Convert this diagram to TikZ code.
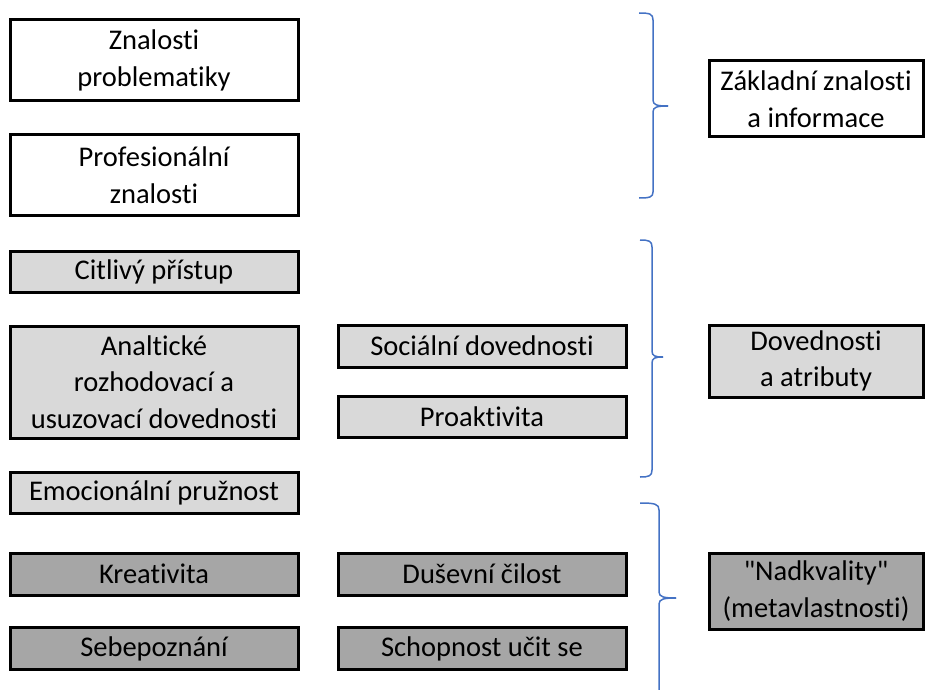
\documentclass[tikz,border=0pt]{standalone}
\usepackage{fontspec}
\setmainfont{Carlito}[Ligatures={NoCommon,TeXOff}]
\definecolor{svetla}{HTML}{D9D9D9}
\definecolor{tmava}{HTML}{A6A6A6}
\definecolor{modra}{HTML}{4472C4}
\tikzset{
  ramec/.style={draw=black, line width=3pt, inner sep=0pt, align=center,
    font=\fontsize{28.5}{36.5}\selectfont},
  bila/.style={ramec, fill=white},
  sediva/.style={ramec, fill=svetla},
  tmavosediva/.style={ramec, fill=tmava},
  svorka/.style={draw=modra, line width=1.5pt},
}
\begin{document}
\begin{tikzpicture}[x=1pt, y=-1pt]
        \useasboundingbox (0,0) rectangle (926,690);
        \clip (0,0) rectangle (926,690);
        \pgfmathsetmacro{\levy}{154}
        \pgfmathsetmacro{\stred}{482}
        \pgfmathsetmacro{\pravy}{816}

        % prvni sloupec
        \node[bila, minimum width=288pt, minimum height=81pt] (znal) at (\levy, 60.5) {Znalosti\\problematiky};
        \node[bila, minimum width=288pt, minimum height=80pt] (prof) at (\levy, 175) {Profesionální\\znalosti};
        \node[sediva, minimum width=288pt, minimum height=41pt] (citl) at (\levy, 271.5) {Citlivý přístup};
        \node[sediva, minimum width=288pt, minimum height=112pt] (anal) at (\levy, 382) {Analtické\\rozhodovací a\\usuzovací dovednosti};
        \node[sediva, minimum width=288pt, minimum height=41pt] (emoc) at (\levy, 492.5) {Emocionální pružnost};
        \node[tmavosediva, minimum width=288pt, minimum height=42pt] (krea) at (\levy, 574) {Kreativita};
        \node[tmavosediva, minimum width=288pt, minimum height=42pt] (sebe) at (\levy, 648.5) {Sebepoznání};

        % druhy sloupec
        \node[sediva, minimum width=288pt, minimum height=42pt] (soci) at (\stred, 346) {Sociální dovednosti};
        \node[sediva, minimum width=288pt, minimum height=41pt] (proa) at (\stred, 417) {Proaktivita};
        \node[tmavosediva, minimum width=288pt, minimum height=42pt] (duse) at (\stred, 574) {Duševní čilost};
        \node[tmavosediva, minimum width=288pt, minimum height=42pt] (scho) at (\stred, 648.5) {Schopnost učit se};

        % souhrnne kategorie
        \node[bila, minimum width=214pt, minimum height=76pt] (zakl) at (\pravy, 99) {Základní znalosti\\a informace};
        \node[sediva, minimum width=214pt, minimum height=72pt] (dove) at (\pravy, 361) {Dovednosti\\a atributy};
        \node[tmavosediva, minimum width=214pt, minimum height=76pt] (nadk) at (\pravy, 591) {"Nadkvality"\\(metavlastnosti)};

        % svorky
        \draw[svorka] (639,13) .. controls (650,13) and (653,14) .. (653,20) -- (653,100)
            .. controls (653,105) and (657,106) .. (668,106);
        \draw[svorka] (668,106) .. controls (657,106) and (653,107) .. (653,112) -- (653,192)
            .. controls (653,197) and (650,198) .. (639,198);

        \draw[svorka] (640,240) .. controls (649,240) and (652,241) .. (652,247) -- (652,351)
            .. controls (652,356) and (655,357) .. (663,357);
        \draw[svorka] (663,357) .. controls (655,357) and (652,358) .. (652,363) -- (652,470)
            .. controls (652,476) and (649,477) .. (640,477);

        \draw[svorka] (640,503) .. controls (655,503) and (659,504) .. (659,510) -- (659,592)
            .. controls (659,597) and (664,598) .. (676,598);
        \draw[svorka] (676,598) .. controls (664,598) and (659,599) .. (659,604) -- (659,695);

    \end{tikzpicture}
\end{document}
